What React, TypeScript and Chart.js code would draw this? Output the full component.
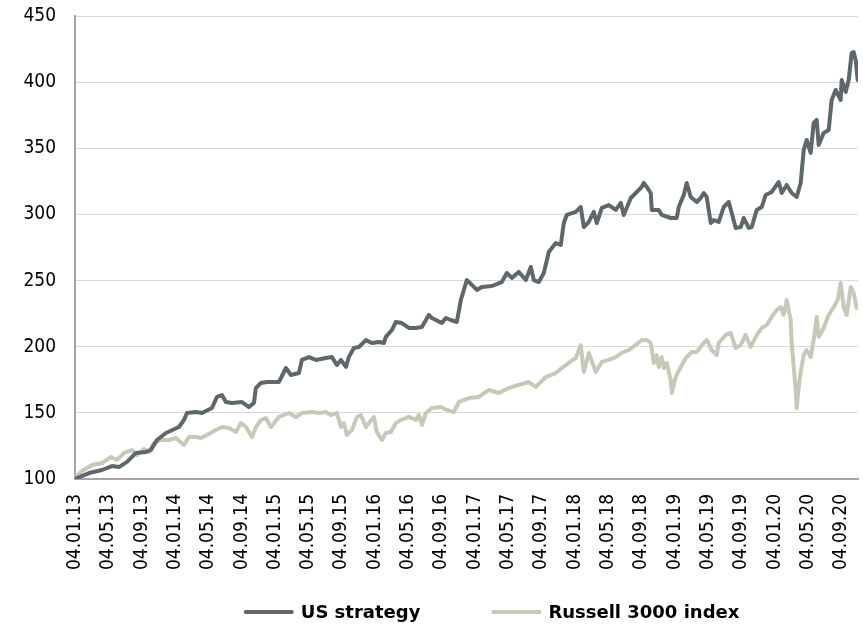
import React, { useEffect, useRef } from "react";
import { Chart, registerables } from "chart.js";

Chart.register(...registerables);

// ---- DATA (x = months since 04.01.13) ----
const usMonths = [
  0, 1.68, 3.24, 4.44, 5.28, 6.24, 7.32, 8.52, 9.12, 9.84, 10.92, 12.48, 13.08, 13.44, 14.52, 15.24,
  16.44, 17.04, 17.64, 18.12, 18.84, 20.04, 20.88, 21.48, 21.72, 22.32, 23.04, 24.48, 25.32, 25.92,
  26.88, 27.24, 28.08, 28.92, 30.12, 30.84, 31.44, 31.92, 32.52, 32.88, 33.48, 34.08, 34.92, 35.64,
  36.48, 37.08, 37.32, 38.04, 38.52, 39.24, 40.08, 40.92, 41.64, 42.48, 42.84, 44.04, 44.52, 45.12,
  45.84, 46.32, 46.68, 47.04, 47.64, 48.24, 48.84, 50.04, 51.24, 51.84, 52.44, 53.28, 54.12, 54.72,
  55.08, 55.68, 56.28, 56.88, 57.72, 58.32, 58.68, 59.04, 60.12, 60.72, 61.08, 61.68, 62.28, 62.64,
  63.24, 64.08, 64.92, 65.52, 65.88, 66.72, 67.32, 68.04, 68.28, 68.64, 69.12, 69.24, 70.08, 70.44,
  71.52, 72.24, 72.48, 73.08, 73.44, 73.92, 74.64, 75.12, 75.48, 75.84, 76.32, 76.68, 77.28, 77.88,
  78.48, 78.84, 79.32, 79.92, 80.28, 80.88, 81.24, 81.84, 82.44, 82.92, 83.64, 84.48, 84.84, 85.44,
  86.04, 86.64, 87.12, 87.48, 87.84, 88.32, 88.68, 89.04, 89.28, 89.88, 90.48, 90.84, 91.32, 91.92,
  92.04, 92.52, 92.88, 93.24, 93.48, 93.72, 93.96,
];
const usValues = [
  100, 104.5, 106.8, 109.8, 109, 112.9, 119.7, 120.4, 122, 129.5, 134.8, 139.3, 144.6, 149.9, 150.6, 149.9,
  153.7, 162, 163.5, 158.2, 157.5, 158.2, 154.4, 157.5, 168.8, 172.6, 173.3, 173.3, 183.9, 178.6,
  180.1, 190, 192.2, 190, 191.5, 192.2, 186.2, 190, 184.7, 192.2, 199, 199.8, 205, 202.8,
  203.6, 202.8, 207.4, 212.6, 218.7, 217.9, 214.2, 214.2, 214.9, 224, 221.7, 217.9, 221.7, 220.2,
  218.7, 235.3, 242.9, 250.4, 246.7, 242.9, 245.2, 245.9, 248.9, 255.7, 252, 256.5, 250.4, 260.3,
  250.4, 248.9, 255.7, 271.6, 278.4, 276.9, 293.5, 299.6, 301.9, 305.6, 290.5, 294.3, 301.9, 293.5,
  304.9, 307.1, 303.4, 308.7, 299.6, 312.4, 316.2, 320.8, 323.8, 320.8, 316.2, 303.4, 303.4, 299.6,
  297.3, 297.3, 305.6, 314.7, 323.8, 313.2, 309.4, 312.4, 316.2, 313.2, 293.5, 295.8, 294.3, 305.6,
  309.4, 301.1, 289.8, 290.5, 297.3, 289.8, 290.5, 303.4, 305.6, 314.7, 317, 324.5, 316.2, 322.3,
  316.2, 313.2, 323.8, 348.7, 356.3, 346.5, 369.1, 371.4, 352.5, 361.6, 363.8, 386.5, 394.1, 386.5,
  401.6, 392.6, 401.6, 422, 422.8, 416.8, 401.6,
];

const ruMonths = [
  0, 0.84, 2.04, 3.24, 4.32, 5.04, 5.88, 6.84, 7.44, 8.28, 8.88, 9.48, 10.32, 11.28, 12.12, 13.08,
  13.68, 14.52, 15.12, 15.84, 16.92, 17.64, 18.48, 19.32, 19.92, 20.52, 21.24, 21.72, 22.32, 22.92,
  23.52, 24.48, 25.68, 26.52, 27.24, 28.44, 29.28, 30.12, 30.72, 31.44, 31.92, 32.28, 32.64, 33.24,
  33.84, 34.32, 34.92, 35.28, 35.88, 36.24, 36.84, 37.32, 37.92, 38.52, 39.12, 40.08, 40.92, 41.28,
  41.64, 42.12, 42.84, 43.92, 44.64, 45.48, 46.08, 47.28, 48.48, 49.68, 50.88, 52.08, 53.28, 54.48,
  55.32, 56.52, 57.72, 58.44, 59.28, 60.12, 60.72, 61.08, 61.68, 62.52, 63.24, 64.08, 64.92, 65.64,
  66.48, 67.32, 68.04, 68.64, 69.12, 69.48, 69.84, 70.08, 70.44, 70.68, 71.04, 71.52, 71.64, 72.12,
  72.72, 73.32, 74.04, 74.64, 75.48, 75.84, 76.44, 77.04, 77.28, 78.12, 78.72, 79.32, 79.92, 80.52,
  81.12, 81.72, 82.44, 83.04, 83.64, 84.24, 84.72, 85.08, 85.44, 85.92, 86.04, 86.28, 86.52, 86.64,
  86.88, 87.12, 87.48, 87.84, 88.32, 88.68, 89.04, 89.28, 89.88, 90.48, 91.08, 91.56, 91.92, 92.28,
  92.64, 93.12, 93.48, 93.84,
];
const ruValues = [
  101, 106, 110.6, 112.1, 116.6, 114.4, 119.7, 121.9, 118.1, 122.7, 120.4, 127.2, 129.5, 129.5, 131, 125.7,
  131.8, 131.8, 131, 133.3, 137, 139.3, 138.6, 135.5, 142.3, 139.3, 131.8, 139.3, 144.6, 146.1,
  139.3, 146.9, 149.9, 146.9, 149.9, 150.6, 149.9, 150.6, 148.4, 149.9, 139.3, 142.3, 133.3, 137,
  146.9, 148.4, 139.3, 142.3, 146.9, 135.5, 129.5, 134.8, 135.5, 142.3, 144.6, 146.9, 144.6, 148.4,
  140.8, 149.9, 153.7, 154.4, 152.2, 150.6, 158.2, 161.2, 162, 167.3, 165, 168.8, 171.1, 173.3,
  169.6, 177.1, 180.1, 183.9, 187.7, 191.5, 201.3, 180.9, 195.3, 180.9, 188.5, 190, 192.2, 195.3,
  197.5, 201.3, 205.1, 205.1, 202.8, 187.7, 193.7, 184.7, 192.2, 183.9, 187.7, 174.8, 165, 177.1,
  184.7, 191.5, 196, 196, 202.8, 205.1, 197.5, 193.7, 202.8, 208.9, 210.4, 199, 201.3, 208.9,
  199.8, 207.4, 214.2, 216.4, 222.5, 227.8, 230, 224, 235.3, 220.2, 202.8, 184.7, 167.3, 153.7,
  169.6, 180.9, 193.7, 197.5, 192.2, 205.1, 222.5, 207.4, 214.2, 224, 230, 235.3, 248.2, 230,
  224, 245.2, 240.6, 229.3,
];

const tickLabels = [
  "04.01.13", "04.05.13", "04.09.13", "04.01.14", "04.05.14", "04.09.14",
  "04.01.15", "04.05.15", "04.09.15", "04.01.16", "04.05.16", "04.09.16",
  "04.01.17", "04.05.17", "04.09.17", "04.01.18", "04.05.18", "04.09.18",
  "04.01.19", "04.05.19", "04.09.19", "04.01.20", "04.05.20", "04.09.20",
];
const tickMonths = tickLabels.map((_, i) => i * 4);

const seriesNames = ["US strategy", "Russell 3000 index"];

// ---- STYLE ----
const US_COLOR = "#5e686c";
const RU_COLOR = "#c8c8b9";
const TICK_FONT = "'DejaVu Sans Condensed', 'DejaVu Sans', sans-serif";
const LEGEND_FONT = "'DejaVu Sans', sans-serif";
const W = 863;
const H = 634;
const PLOT_TOP = 16;
const PLOT_BOTTOM = 479;

const legendPlugin = {
  id: "bottomLegend",
  afterDraw(chart: any) {
    const ctx = chart.ctx;
    ctx.save();
    const fontSize = 18;
    ctx.font = `bold ${fontSize}px ${LEGEND_FONT}`;
    const lineW = 50;
    const gap = 7;
    const itemGap = 71;
    const items = chart.data.datasets.map((ds: any) => ({
      label: ds.label,
      color: ds.borderColor,
      w: ctx.measureText(ds.label).width,
    }));
    const total =
      items.reduce((s: number, it: any) => s + lineW + gap + it.w, 0) +
      itemGap * (items.length - 1);
    const centerX = chart.chartArea.left + (chart.chartArea.right - chart.chartArea.left) * 0.532;
    let x = centerX - total / 2;
    const y = 612;
    for (const it of items) {
      ctx.beginPath();
      ctx.strokeStyle = it.color;
      ctx.lineWidth = 4;
      ctx.lineCap = "round";
      ctx.moveTo(x + 2, y);
      ctx.lineTo(x + lineW - 2, y);
      ctx.stroke();
      ctx.fillStyle = "#000";
      ctx.textBaseline = "middle";
      ctx.textAlign = "left";
      ctx.fillText(it.label, x + lineW + gap, y + 1);
      x += lineW + gap + it.w + itemGap;
    }
    ctx.restore();
  },
};

export default function App() {
  const ref = useRef<HTMLCanvasElement | null>(null);
  useEffect(() => {
    if (!ref.current) return;
    const chart = new Chart(ref.current, {
      type: "line",
      data: {
        datasets: [
          {
            label: seriesNames[0],
            data: usMonths.map((m, i) => ({ x: m, y: usValues[i] })),
            borderColor: US_COLOR,
            backgroundColor: US_COLOR,
            borderWidth: 4,
            pointRadius: 0,
            tension: 0,
            borderJoinStyle: "round",
            borderCapStyle: "round",
          },
          {
            label: seriesNames[1],
            data: ruMonths.map((m, i) => ({ x: m, y: ruValues[i] })),
            borderColor: RU_COLOR,
            backgroundColor: RU_COLOR,
            borderWidth: 4,
            pointRadius: 0,
            tension: 0,
            borderJoinStyle: "round",
            borderCapStyle: "round",
          },
        ],
      },
      options: {
        responsive: false,
        animation: false,
        layout: { padding: { top: PLOT_TOP, right: 5, left: 0, bottom: 0 } },
        plugins: {
          legend: { display: false },
          tooltip: { enabled: false },
        },
        scales: {
          x: {
            type: "linear",
            min: 0,
            max: 94,
            afterBuildTicks: (axis: any) => {
              axis.ticks = tickMonths.map((v) => ({ value: v }));
            },
            afterFit: (scale: any) => {
              scale.height = H - PLOT_BOTTOM;
              scale.paddingLeft = 0;
              scale.paddingRight = 0;
              scale.paddingTop = 0;
              scale.paddingBottom = 0;
            },
            grid: { display: false, drawTicks: false },
            border: { display: true, color: "#a6a6a6", width: 2 },
            ticks: {
              autoSkip: false,
              maxRotation: 90,
              minRotation: 90,
              padding: 15,
              color: "#000",
              font: { family: TICK_FONT, size: 19 },
              callback: (_v: any, i: number) => tickLabels[i],
            },
          },
          y: {
            min: 100,
            max: 450,
            afterFit: (scale: any) => {
              scale.width = 75;
              scale.paddingTop = 0;
              scale.paddingBottom = 0;
            },
            grid: { color: "#d9d9d9", lineWidth: 1, drawTicks: false },
            border: { display: true, color: "#a6a6a6", width: 2 },
            ticks: {
              stepSize: 50,
              padding: 19,
              color: "#000",
              font: { family: TICK_FONT, size: 19 },
            },
          },
        },
      },
      plugins: [legendPlugin],
    });
    return () => chart.destroy();
  }, []);
  return (
    <div style={{ position: "fixed", left: 0, top: 0, width: W, height: H, background: "#fff" }}>
      <canvas ref={ref} width={W} height={H} style={{ display: "block" }} />
    </div>
  );
}
